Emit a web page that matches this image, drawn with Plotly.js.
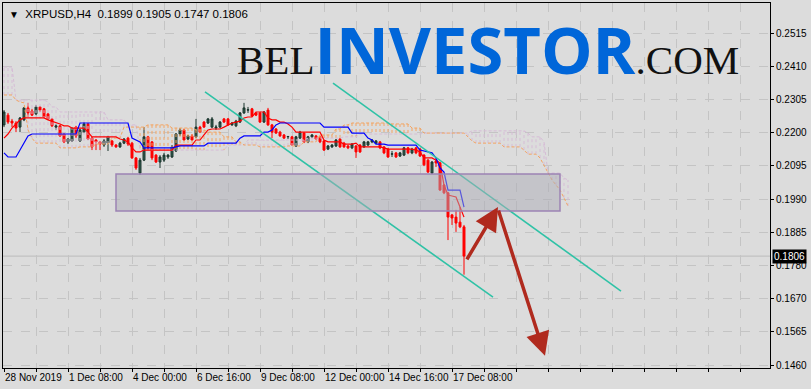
<!DOCTYPE html>
<html><head><meta charset="utf-8">
<script src="https://cdn.plot.ly/plotly-3.0.1.min.js"></script>
<style>html,body{margin:0;padding:0;background:#dcdcdc;}#chart{width:811px;height:389px;}</style>
</head><body><div id="chart"></div>
<script>
const symbolName = 'XRPUSD,H4';
const lastQuote = ['0.1899', '0.1905', '0.1747', '0.1806'];
const lastClose = 0.1806;

const open = [
.2223,.2254,.2235,.2229,.2216,.2239,.2277,.2267,.2258,.2280,
.2274,.2258,.2242,.2216,.2220,.2194,.2169,.2172,.2216,.2172,
.2200,.2226,.2181,.2175,.2169,.2159,.2165,.2172,.2159,.2153,
.2165,.2181,.2165,.2118,.2070,.2111,.2185,.2169,.2127,.2105,
.2111,.2121,.2121,.2140,.2194,.2207,.2178,.2188,.2185,.2216,
.2232,.2229,.2216,.2213,.2216,.2242,.2242,.2223,.2220,.2232,
.2261,.2270,.2274,.2261,.2261,.2232,.2270,.2223,.2210,.2200,
.2191,.2185,.2185,.2156,.2181,.2197,.2169,.2185,.2188,.2185,
.2172,.2146,.2153,.2156,.2178,.2165,.2156,.2150,.2156,.2159,
.2153,.2159,.2169,.2165,.2169,.2153,.2146,.2130,.2134,.2124,
.2127,.2150,.2134,.2150,.2146,.2127,.2111,.2070,.2108,.2102,
.2032,.2007,.1937,.1930,.1914,.1899];
const high = [
.2270,.2261,.2242,.2235,.2248,.2280,.2293,.2274,.2286,.2283,
.2277,.2261,.2245,.2226,.2223,.2197,.2181,.2216,.2220,.2210,
.2232,.2229,.2185,.2178,.2172,.2178,.2188,.2175,.2162,.2169,
.2181,.2185,.2169,.2121,.2118,.2216,.2188,.2172,.2130,.2127,
.2134,.2130,.2159,.2197,.2213,.2210,.2191,.2194,.2242,.2220,
.2235,.2245,.2248,.2223,.2235,.2245,.2245,.2232,.2239,.2264,
.2293,.2280,.2277,.2264,.2264,.2267,.2277,.2226,.2213,.2204,
.2194,.2188,.2188,.2188,.2204,.2200,.2188,.2194,.2191,.2188,
.2175,.2159,.2162,.2178,.2181,.2169,.2159,.2165,.2159,.2162,
.2172,.2172,.2178,.2175,.2172,.2156,.2150,.2140,.2137,.2137,
.2153,.2153,.2150,.2153,.2150,.2130,.2115,.2108,.2118,.2105,
.2035,.2010,.1940,.1953,.1962,.1905];
const low = [
.2216,.2226,.2216,.2200,.2200,.2235,.2248,.2251,.2254,.2264,
.2245,.2239,.2216,.2207,.2185,.2165,.2162,.2169,.2181,.2169,
.2197,.2175,.2143,.2143,.2143,.2153,.2140,.2153,.2150,.2150,
.2162,.2156,.2115,.2080,.2064,.2108,.2143,.2111,.2102,.2086,
.2105,.2115,.2118,.2137,.2188,.2172,.2175,.2172,.2181,.2197,
.2213,.2226,.2213,.2207,.2213,.2229,.2220,.2220,.2216,.2229,
.2258,.2261,.2248,.2251,.2229,.2229,.2220,.2181,.2194,.2185,
.2178,.2178,.2156,.2153,.2178,.2165,.2165,.2181,.2175,.2165,
.2140,.2143,.2150,.2153,.2150,.2150,.2146,.2146,.2118,.2134,
.2150,.2156,.2165,.2162,.2146,.2130,.2118,.2121,.2118,.2121,
.2124,.2130,.2130,.2130,.2121,.2092,.2070,.2067,.2089,.2013,
.2003,.1857,.1905,.1883,.1895,.1747];
const close = [
.2264,.2232,.2229,.2213,.2245,.2277,.2261,.2254,.2280,.2270,
.2248,.2242,.2220,.2220,.2188,.2169,.2178,.2213,.2188,.2207,
.2226,.2178,.2153,.2169,.2162,.2172,.2185,.2159,.2153,.2165,
.2178,.2162,.2118,.2086,.2111,.2185,.2150,.2118,.2105,.2121,
.2127,.2127,.2153,.2194,.2207,.2175,.2188,.2175,.2216,.2200,
.2216,.2242,.2242,.2216,.2232,.2232,.2223,.2229,.2235,.2261,
.2277,.2271,.2251,.2254,.2232,.2264,.2223,.2200,.2197,.2188,
.2181,.2186,.2159,.2185,.2200,.2169,.2185,.2191,.2178,.2169,
.2143,.2156,.2159,.2175,.2153,.2153,.2150,.2162,.2137,.2137,
.2169,.2169,.2175,.2172,.2150,.2134,.2121,.2131,.2121,.2134,
.2150,.2134,.2146,.2134,.2124,.2096,.2073,.2105,.2102,.2016,
.2007,.1930,.1927,.1911,.1899,.1806];

// Ichimoku: Tenkan-sen (red), Kijun-sen (blue)
const tenkan = [
.2181,.2194,.2213,.2226,.2239,.2245,.2245,.2245,.2245,.2245,
.2245,.2239,.2235,.2229,.2226,.2220,.2220,.2213,.2213,.2213,
.2213,.2200,.2185,.2185,.2185,.2185,.2185,.2185,.2185,.2178,
.2175,.2169,.2150,.2137,.2137,.2143,.2143,.2143,.2143,.2143,
.2143,.2143,.2143,.2159,.2159,.2159,.2159,.2159,.2175,.2175,
.2191,.2207,.2210,.2210,.2210,.2216,.2223,.2229,.2232,.2235,
.2245,.2248,.2248,.2264,.2264,.2264,.2245,.2239,.2239,.2232,
.2232,.2226,.2216,.2200,.2200,.2200,.2200,.2200,.2200,.2200,
.2175,.2169,.2169,.2169,.2169,.2162,.2162,.2162,.2165,.2153,
.2153,.2153,.2153,.2153,.2153,.2150,.2146,.2146,.2146,.2146,
.2146,.2146,.2146,.2143,.2137,.2118,.2118,.2118,.2111,.2102,
.2032,.2000,.1997,.1994,.1962,.1930];
const kijun = [
.2134,.2121,.2121,.2121,.2143,.2165,.2188,.2194,.2194,.2194,
.2194,.2194,.2194,.2194,.2194,.2194,.2194,.2194,.2194,.2229,
.2229,.2229,.2229,.2229,.2229,.2229,.2229,.2229,.2229,.2229,
.2229,.2229,.2181,.2175,.2169,.2150,.2150,.2150,.2150,.2150,
.2150,.2150,.2150,.2153,.2156,.2156,.2156,.2156,.2156,.2156,
.2156,.2165,.2165,.2165,.2165,.2165,.2165,.2165,.2165,.2181,
.2188,.2188,.2188,.2188,.2188,.2200,.2200,.2207,.2223,.2229,
.2229,.2229,.2229,.2229,.2229,.2229,.2229,.2229,.2229,.2229,
.2216,.2216,.2216,.2216,.2216,.2216,.2216,.2197,.2197,.2197,
.2197,.2181,.2175,.2162,.2162,.2162,.2159,.2159,.2159,.2159,
.2159,.2159,.2159,.2159,.2143,.2140,.2137,.2134,.2118,.2086,
.2073,.2016,.2016,.2016,.2016,.1962];
// Senkou Span A (sandy brown) and Span B (thistle), already shifted 26 bars forward
const spanA = [
.2318,.2318,.2318,.2302,.2296,.2293,.2207,.2181,.2165,.2165,
.2165,.2165,.2165,.2165,.2150,.2150,.2150,.2150,.2150,.2153,
.2153,.2153,.2153,.2162,.2162,.2162,.2162,.2181,.2181,.2181,
.2216,.2216,.2216,.2216,.2216,.2216,.2223,.2223,.2223,.2223,
.2223,.2223,.2213,.2213,.2213,.2213,.2213,.2213,.2207,.2207,
.2207,.2200,.2200,.2200,.2200,.2185,.2185,.2185,.2169,.2169,
.2159,.2159,.2159,.2159,.2153,.2153,.2153,.2153,.2153,.2153,
.2153,.2156,.2156,.2156,.2156,.2169,.2169,.2169,.2169,.2191,
.2191,.2191,.2191,.2210,.2210,.2223,.2223,.2229,.2229,.2229,
.2229,.2229,.2229,.2229,.2229,.2229,.2229,.2226,.2226,.2226,
.2226,.2226,.2213,.2213,.2213,.2197,.2197,.2197,.2197,.2197,
.2197,.2197,.2197,.2197,.2197,.2197,.2185,.2172,.2165,.2165,
.2165,.2165,.2165,.2165,.2165,.2153,.2153,.2153,.2153,.2153,
.2143,.2130,.2130,.2130,.2118,.2096,.2073,.2048,.2032,.2016,
.1991,.1965];
const spanB = [
.2407,.2407,.2407,.2302,.2302,.2302,.2302,.2302,.2302,.2302,
.2302,.2296,.2280,.2280,.2264,.2264,.2264,.2264,.2264,.2264,
.2264,.2264,.2264,.2264,.2264,.2264,.2239,.2239,.2239,.2239,
.2239,.2223,.2223,.2223,.2143,.2143,.2143,.2143,.2143,.2143,
.2143,.2143,.2143,.2143,.2143,.2143,.2143,.2143,.2143,.2143,
.2143,.2143,.2143,.2143,.2143,.2143,.2159,.2159,.2159,.2159,
.2159,.2175,.2175,.2175,.2175,.2175,.2175,.2175,.2175,.2175,
.2175,.2175,.2175,.2175,.2175,.2175,.2181,.2181,.2181,.2181,
.2181,.2181,.2181,.2181,.2181,.2185,.2185,.2185,.2185,.2194,
.2194,.2194,.2194,.2194,.2194,.2194,.2194,.2194,.2194,.2194,
.2194,.2194,.2194,.2194,.2194,.2197,.2197,.2197,.2197,.2197,
.2197,.2197,.2197,.2197,.2197,.2197,.2197,.2204,.2204,.2204,
.2204,.2204,.2204,.2204,.2204,.2204,.2204,.2204,.2204,.2204,
.2204,.2197,.2185,.2185,.2185,.2169,.2070,.2070,.2070,.2070,
.2054,.2048];

// Axis ticks
const xTickPos = [0,8,16,24,32,40,48,56,64,72,80,88,96,104,112,120,128,136,144,152,160,168,176,184];
const xTickText = ['28 Nov 2019','','1 Dec 08:00','','4 Dec 00:00','','6 Dec 16:00','','9 Dec 08:00','','12 Dec 00:00','','14 Dec 16:00','','17 Dec 08:00','','','','','','','','',''];
const yTickPos = [0.2515,0.24095,0.2304,0.21985,0.2093,0.19875,0.1882,0.17765,0.1671,0.15655,0.146];
const yTickText = ['0.2515','0.2410','0.2305','0.2200','0.2095','0.1990','0.1885','0.1780','0.1670','0.1565','0.1460'];

const bars = open.map((_, i) => i);
const spanBars = spanA.map((_, i) => i);

// cloud hatching between the two spans
const hatchUpX = [], hatchUpY = [], hatchDnX = [], hatchDnY = [];
spanBars.forEach(i => {
  if (spanA[i] >= spanB[i]) { hatchUpX.push(i, i, null); hatchUpY.push(spanA[i], spanB[i], null); }
  else { hatchDnX.push(i, i, null); hatchDnY.push(spanA[i], spanB[i], null); }
});

const axisFont = {family: 'Liberation Sans Narrow, Liberation Sans, Arial, sans-serif', size: 10, color: '#000'};

const traces = [
  {type:'scatter', mode:'lines', x:hatchDnX, y:hatchDnY, line:{color:'#d6bcd6', width:1, dash:'dot'}, hoverinfo:'skip'},
  {type:'scatter', mode:'lines', x:hatchUpX, y:hatchUpY, line:{color:'#f4a460', width:1, dash:'dot'}, hoverinfo:'skip'},
  {type:'scatter', mode:'lines', x:spanBars, y:spanB, line:{color:'#d6bcd6', width:1, dash:'3px,2px'}, hoverinfo:'skip'},
  {type:'scatter', mode:'lines', x:spanBars, y:spanA, line:{color:'#f4a460', width:1, dash:'3px,2px'}, hoverinfo:'skip'},
  {type:'candlestick', x:bars, open:open, high:high, low:low, close:close,
   increasing:{fillcolor:'#355f52', line:{color:'#1a342c', width:1}},
   decreasing:{fillcolor:'#ff0000', line:{color:'#ff0000', width:1}},
   whiskerwidth:0, hoverinfo:'skip'},
  {type:'scatter', mode:'lines', x:bars, y:tenkan, line:{color:'#ff0000', width:1.2}, hoverinfo:'skip'},
  {type:'scatter', mode:'lines', x:bars, y:kijun, line:{color:'#0000ff', width:1.2}, hoverinfo:'skip'}
];

const serif = 'Liberation Serif, Times New Roman, serif';
const layout = {
  width:811, height:389,
  margin:{l:3, r:41, t:3, b:21},
  paper_bgcolor:'#dcdcdc', plot_bgcolor:'#dcdcdc',
  showlegend:false, hovermode:false,
  font:axisFont,
  xaxis:{range:[-0.25,191.5], tickvals:xTickPos, ticktext:xTickText, ticklabelposition:'outside right', tickangle:0,
         showgrid:true, gridcolor:'#c4c4c4', griddash:'dash', gridwidth:1,
         ticks:'outside', ticklen:3, tickcolor:'#000', showline:true, linecolor:'#000', linewidth:1, mirror:true,
         zeroline:false, rangeslider:{visible:false}, tickfont:axisFont, fixedrange:true},
  yaxis:{range:[0.145047,0.261033], side:'right', tickvals:yTickPos, ticktext:yTickText,
         showgrid:true, gridcolor:'#c4c4c4', griddash:'dash', gridwidth:1,
         ticks:'outside', ticklen:3, tickcolor:'#000', showline:true, linecolor:'#000', linewidth:1, mirror:true,
         zeroline:false, tickfont:axisFont, fixedrange:true},
  shapes:[
    {type:'line', xref:'paper', yref:'y', x0:0, x1:1, y0:lastClose, y1:lastClose, line:{color:'#bdbdbd', width:1}, layer:'below'},
    {type:'line', xref:'x', yref:'y', x0:82.25, y0:0.2356, x1:154.25, y1:0.1695, line:{color:'#2fc2a6', width:1.6}},
    {type:'line', xref:'x', yref:'y', x0:50.25, y0:0.2328, x1:122.25, y1:0.1676, line:{color:'#2fc2a6', width:1.6}},
    {type:'rect', xref:'x', yref:'y', x0:28, x1:139, y0:0.1949, y1:0.2067, fillcolor:'rgba(172,172,182,0.5)', line:{color:'#9c82b4', width:1.5}, layer:'above'}
  ],
  annotations:[
    {xref:'paper', yref:'paper', x:0, y:1, xanchor:'left', yanchor:'top', xshift:4, yshift:-3, showarrow:false,
     text:'<span style="font-size:10px">▼</span>  ' + symbolName + '  ' + lastQuote.join(' '),
     font:{family:'Liberation Sans Narrow, Liberation Sans, Arial, sans-serif', size:11.5, color:'#000'}},
    {xref:'paper', yref:'paper', x:0.6317, y:0.875, xanchor:'center', yanchor:'middle', showarrow:false,
     text:'<span style="font-family:Liberation Serif;font-size:41px;color:#111">BEL</span><b><span style="font-family:Open Sans;font-size:65px;color:#0066d9">INVESTOR</span></b><span style="font-family:Liberation Serif;font-size:41px;color:#111">.COM</span>',
     font:{family:serif, size:41, color:'#111'}},
    {xref:'x', yref:'y', axref:'x', ayref:'y', x:123.5, y:0.1962, ax:115.5, ay:0.1791, text:'', showarrow:true,
     arrowhead:2, arrowsize:1.35, arrowwidth:3.5, arrowcolor:'#b02a1e', standoff:0, startstandoff:0},
    {xref:'x', yref:'y', axref:'x', ayref:'y', x:135.25, y:0.1489, ax:123.5, ay:0.1956, text:'', showarrow:true,
     arrowhead:2, arrowsize:1.35, arrowwidth:3.5, arrowcolor:'#b02a1e', standoff:0, startstandoff:0},
    {xref:'paper', yref:'y', x:1, y:lastClose, xanchor:'left', yanchor:'middle', xshift:2, showarrow:false,
     text:lastQuote[3], bgcolor:'#000', borderpad:1, font:{family:'Liberation Sans Narrow, Liberation Sans, Arial, sans-serif', size:10, color:'#fff'}}
  ]
};

Plotly.newPlot('chart', traces, layout, {displayModeBar:false, staticPlot:true});
</script>
</body></html>
